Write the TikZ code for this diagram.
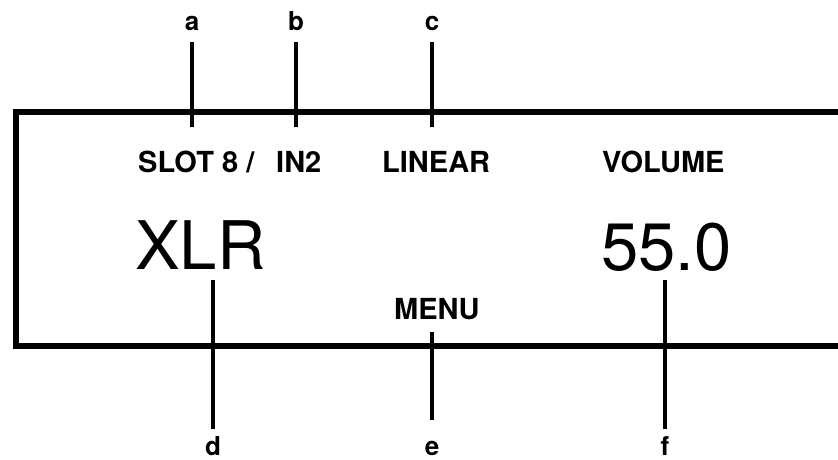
\documentclass[tikz,border=0pt]{standalone}
\usepackage{fontspec}
\setmainfont{TeX Gyre Heros}
\begin{document}
\begin{tikzpicture}[x=1pt,y=-1pt,
  frame/.style={line width=6pt},
  callout/.style={line width=4pt},
  tag/.style={font=\fontsize{26}{30}\selectfont\bfseries, inner sep=0pt, text height=19pt, text depth=0pt, anchor=base},
  caption/.style={font=\fontsize{29}{34}\selectfont\bfseries, inner sep=0pt, anchor=base west},
  big/.style={font=\fontsize{67}{76}\selectfont, inner sep=0pt, anchor=base west}]
\useasboundingbox (0,0) rectangle (838,459);
% display frame (open to the right)
\begin{scope}
\clip (0,0) rectangle (838,459);
\draw[frame] (850,112) -- (16,112) -- (16,346) -- (850,346);
\end{scope}
% texts
\node[caption] (slot) at (138,172) {SLOT 8 /};
\node[caption] (in2) at (276,172) {IN2};
\node[caption] (linear) at (382,172) {LINEAR};
\node[caption] (volume) at (602,172) {VOLUME};
\node[big] (xlr) at (135,269) {XLR};
\node[big] (vol) at (601,270) {55.0};
\node[caption] (menu) at (394,319) {MENU};
% callout labels
\node[tag] (la) at (192,30) {a};
\node[tag] (lb) at (296,30) {b};
\node[tag] (lc) at (432,30) {c};
\node[tag] (ld) at (213,455) {d};
\node[tag] (le) at (432,455) {e};
\node[tag] (lf) at (665,455) {f};
% callout end points
\coordinate (ea) at (192,127);
\coordinate (eb) at (296,127);
\coordinate (ec) at (432,127);
\coordinate (ed) at (213,280);
\coordinate (ee) at (432,332);
\coordinate (ef) at (665,280);
\draw[callout, shorten <=12pt] (la.south) -- (ea);
\draw[callout, shorten <=12pt] (lb.south) -- (eb);
\draw[callout, shorten <=12pt] (lc.south) -- (ec);
\draw[callout, shorten <=7pt] (ld.north) -- (ed);
\draw[callout, shorten <=16pt] (le.north) -- (ee);
\draw[callout, shorten <=7pt] (lf.north) -- (ef);
\end{tikzpicture}
\end{document}
